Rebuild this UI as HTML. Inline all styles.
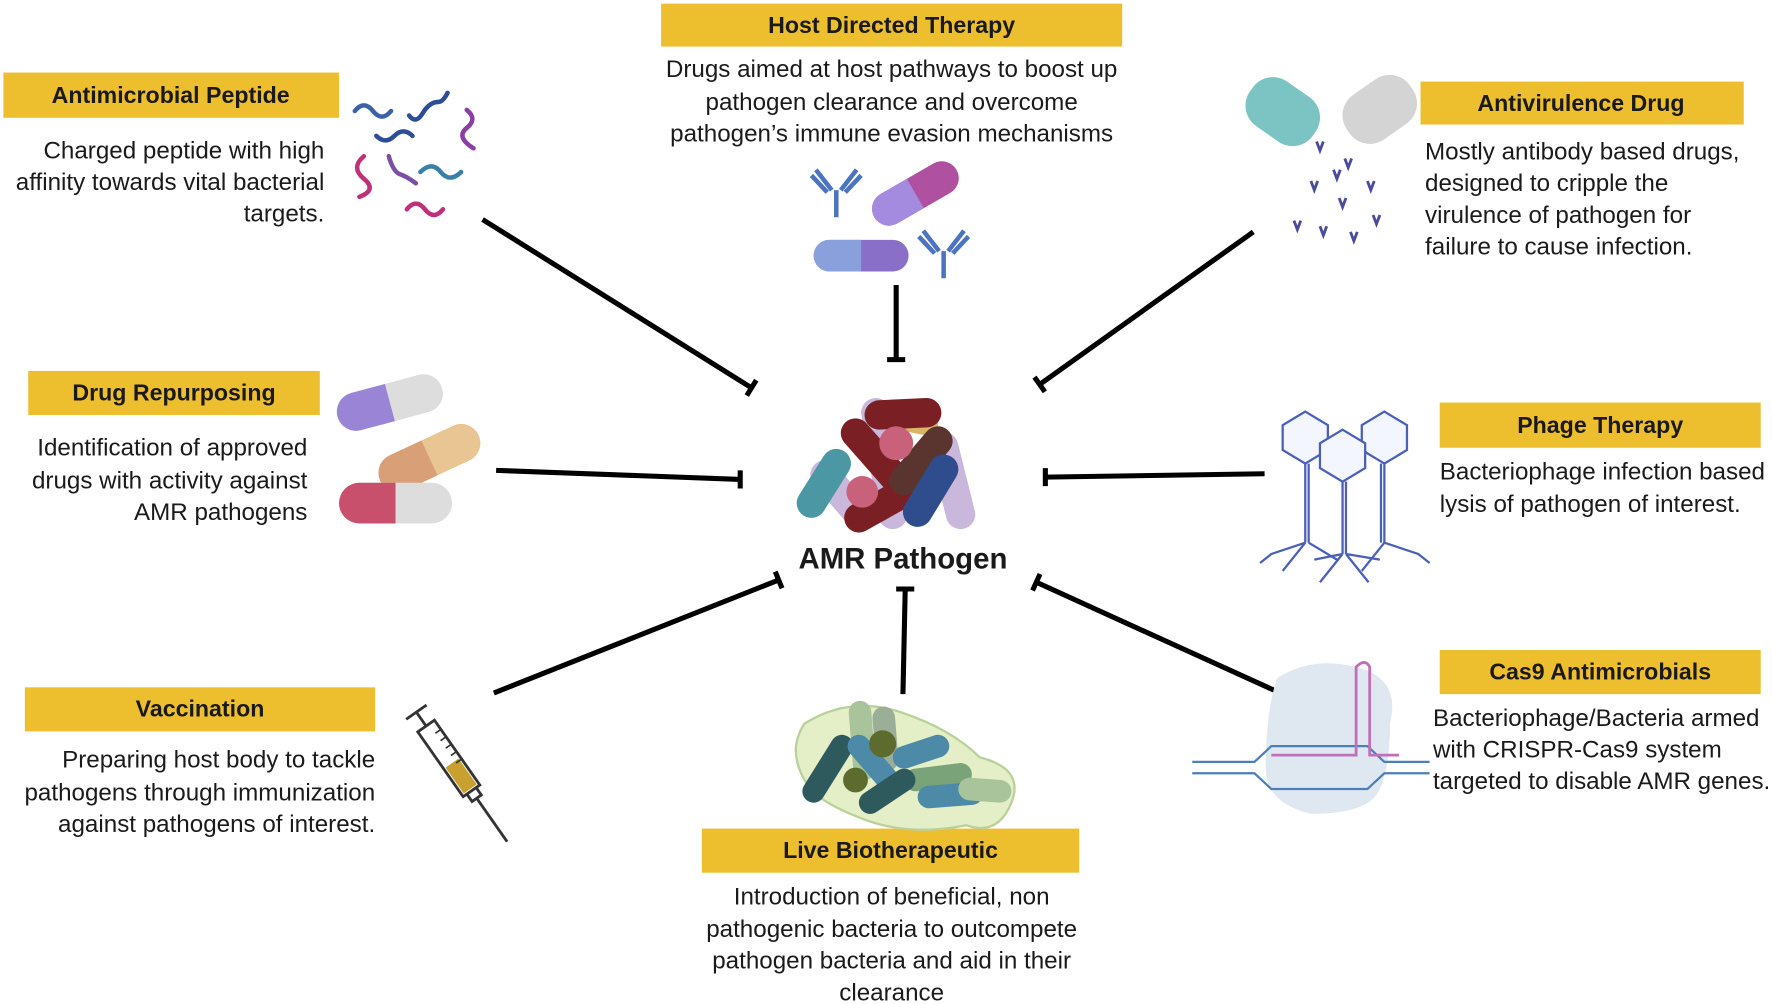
<!DOCTYPE html>
<html><head><meta charset="utf-8"><style>
html,body{margin:0;padding:0;background:#fff;width:1772px;height:1004px;overflow:hidden}
svg{display:block}
text{font-family:"Liberation Sans",sans-serif;fill:#1a1a1a}
.h{font-weight:bold;font-size:20.5px;text-anchor:middle}
.b{font-size:21.4px}
.ln{stroke:#000;stroke-width:4.5;fill:none}
</style></head><body>
<svg width="1772" height="1004" viewBox="0 0 1568 888" xmlns="http://www.w3.org/2000/svg">
<defs>
<clipPath id="lh"><rect x="-55" y="-30" width="55" height="60"/></clipPath>
</defs>
<g fill="#EDBE2E">
<rect x="585" y="3" width="408" height="38"/>
<rect x="3" y="64" width="297" height="40"/>
<rect x="1257" y="72" width="286" height="38"/>
<rect x="25" y="328" width="258" height="39"/>
<rect x="1274" y="356" width="284" height="40"/>
<rect x="22" y="608" width="310" height="39"/>
<rect x="621" y="733" width="334" height="39"/>
<rect x="1274" y="575" width="284" height="39"/>
</g>
<text class="h" x="789" y="29">Host Directed Therapy</text>
<text class="h" x="151" y="91">Antimicrobial Peptide</text>
<text class="h" x="1399" y="98">Antivirulence Drug</text>
<text class="h" x="154" y="354">Drug Repurposing</text>
<text class="h" x="1416" y="383">Phage Therapy</text>
<text class="h" x="177" y="634">Vaccination</text>
<text class="h" x="788" y="759">Live Biotherapeutic</text>
<text class="h" x="1416" y="601">Cas9 Antimicrobials</text>

<g class="b" text-anchor="middle">
<text x="789" y="68">Drugs aimed at host pathways to boost up</text>
<text x="789" y="97">pathogen clearance and overcome</text>
<text x="789" y="125">pathogen’s immune evasion mechanisms</text>
<text x="789" y="800">Introduction of beneficial, non</text>
<text x="789" y="829">pathogenic bacteria to outcompete</text>
<text x="789" y="857">pathogen bacteria and aid in their</text>
<text x="789" y="885">clearance</text>
</g>
<g class="b" text-anchor="end">
<text x="287" y="140">Charged peptide with high</text>
<text x="287" y="168">affinity towards vital bacterial</text>
<text x="287" y="196">targets.</text>
<text x="272" y="403">Identification of approved</text>
<text x="272" y="432">drugs with activity against</text>
<text x="272" y="460">AMR pathogens</text>
<text x="332" y="679">Preparing host body to tackle</text>
<text x="332" y="708">pathogens through immunization</text>
<text x="332" y="736">against pathogens of interest.</text>
</g>
<g class="b">
<text x="1261" y="141">Mostly antibody based drugs,</text>
<text x="1261" y="169">designed to cripple the</text>
<text x="1261" y="197">virulence of pathogen for</text>
<text x="1261" y="225">failure to cause infection.</text>
<text x="1274" y="424">Bacteriophage infection based</text>
<text x="1274" y="453">lysis of pathogen of interest.</text>
<text x="1268" y="642">Bacteriophage/Bacteria armed</text>
<text x="1268" y="670">with CRISPR-Cas9 system</text>
<text x="1268" y="698">targeted to disable AMR genes.</text>
</g>
<text x="799" y="503" style="font-weight:bold;font-size:26px;text-anchor:middle">AMR Pathogen</text>

<g class="ln">
<path d="M427 194L665 343M660.8 349.8L669.2 336.2"/>
<path d="M793 252L793 318M785 318L801 318"/>
<path d="M1109 205L920 340M915.4 333.5L924.6 346.5"/>
<path d="M439 416L655 424M655 416L655 432"/>
<path d="M1119 419L925 422M925 414L925 430"/>
<path d="M437 613L689 513M686 505.6L692 520.4"/>
<path d="M799 614L801 521M793 521L809 521"/>
<path d="M1135 614L917 515M913.7 522.3L920.3 507.7"/>
</g>

<g fill="none" stroke-width="4" stroke-linecap="round">
<path d="M314 98q8-10 16 0t16 0" stroke="#3a62a8"/>
<path d="M362 102q6 8 12-2t14-10q4 0 8-8" stroke="#2d4e96"/>
<path d="M333 120q8 8 16 0t16 0" stroke="#2d4e96"/>
<path d="M413 97q10 8 0 16t6 18" stroke="#8b3fa3"/>
<path d="M322 138q-12 10 0 20t-4 16" stroke="#c0307a"/>
<path d="M344 138q4 14 10 16t14 8" stroke="#7b4fa8"/>
<path d="M372 152q10-10 18 0t18 0" stroke="#3a7fa6"/>
<path d="M360 185q8-10 16 0t16 0" stroke="#c0307a"/>
</g>

<g transform="translate(345,356) rotate(-15)"><rect x="-48" y="-17" width="96" height="34" rx="17" fill="#ddd"/><rect x="-48" y="-17" width="96" height="34" rx="17" fill="#9a84d6" clip-path="url(#lh)"/></g>
<g transform="translate(380,405) rotate(-25)"><rect x="-48" y="-17" width="96" height="34" rx="17" fill="#e9c594"/><rect x="-48" y="-17" width="96" height="34" rx="17" fill="#d9a078" clip-path="url(#lh)"/></g>
<g transform="translate(350,445)"><rect x="-50" y="-18" width="100" height="36" rx="18" fill="#ddd"/><rect x="-50" y="-18" width="100" height="36" rx="18" fill="#c8506c" clip-path="url(#lh)"/></g>
<g transform="translate(810,171) rotate(-30)"><rect x="-42" y="-15" width="84" height="30" rx="15" fill="#b050a0"/><rect x="-42" y="-15" width="84" height="30" rx="15" fill="#a58be0" clip-path="url(#lh)"/></g>
<g transform="translate(762,226)"><rect x="-42" y="-14" width="84" height="28" rx="14" fill="#8a6fc8"/><rect x="-42" y="-14" width="84" height="28" rx="14" fill="#8aa0dc" clip-path="url(#lh)"/></g>
<g fill="none" stroke="#4a74c0" stroke-width="4">
<path d="M740 192V168M736 168L722 150M744 168L758 150M732 170L718 155M748 170L762 155"/>
<path d="M835 246V222M831 222L817 204M839 222L853 204M827 224L813 209M843 224L857 209"/>
</g>
<g transform="translate(1140,102) rotate(35)"><rect x="-40" y="-24" width="68" height="48" rx="22" fill="#7cc3c4"/></g>
<g transform="translate(1216,100) rotate(-35)"><rect x="-28" y="-24" width="68" height="48" rx="22" fill="#d4d4d4"/></g>
<g stroke="#4b4b9a" stroke-width="2.5" fill="none">
<path d="M1165 125l3 8 3-8M1190 140l3 8 3-8M1160 160l3 8 3-8M1185 175l3 8 3-8M1210 160l3 8 3-8M1145 195l3 8 3-8M1168 200l3 8 3-8M1195 205l3 8 3-8M1215 190l3 8 3-8M1180 150l3 8 3-8"/>
</g>
<g stroke-linecap="round" fill="none">
<path d="M775 365L790 455" stroke="#c9b8dc" stroke-width="26"/>
<path d="M835 395L850 455" stroke="#c9b8dc" stroke-width="26"/>
<path d="M730 420L760 455" stroke="#c9b8dc" stroke-width="26"/>
<path d="M795 370L820 375" stroke="#d8b664" stroke-width="20"/>
<path d="M778 367L820 365" stroke="#7a2025" stroke-width="26"/>
<path d="M757 383L800 432" stroke="#7a2025" stroke-width="26"/>
<path d="M740 410L718 445" stroke="#4b98a4" stroke-width="26"/>
<path d="M760 458L810 430" stroke="#7a2025" stroke-width="26"/>
<path d="M800 425L830 390" stroke="#5a3530" stroke-width="26"/>
<path d="M835 415L812 453" stroke="#2f4c8c" stroke-width="26"/>
</g>
<circle cx="793" cy="392" r="15" fill="#c9617a"/>
<circle cx="763" cy="435" r="14" fill="#c9617a"/>
<path d="M712 640q40-25 85-10t70 40q40 10 28 40t-40 20q-50 10-90-5t-50-30q-20-30-3-55z" fill="#e4efc8" stroke="#b9d09a" stroke-width="2"/>
<g stroke-linecap="round" fill="none" stroke-width="20">
<path d="M761 630L765 680" stroke="#a9c49a"/>
<path d="M782 635L785 672" stroke="#9aae98"/>
<path d="M745 660L720 700" stroke="#2e5a5e"/>
<path d="M760 660L790 695" stroke="#4d8aa8"/>
<path d="M800 670L830 660" stroke="#4d8aa8"/>
<path d="M810 690L850 685" stroke="#7aa37a"/>
<path d="M770 710L800 690" stroke="#2e5a5e"/>
<path d="M822 705L860 702" stroke="#4d8aa8"/>
<path d="M858 698L885 700" stroke="#a9c49a"/>
</g>
<circle cx="781" cy="658" r="12" fill="#5e6b2e"/>
<circle cx="757" cy="690" r="11" fill="#5e6b2e"/>
<g transform="translate(400,675) rotate(55)">
<rect x="-40" y="-9" width="70" height="18" fill="#fff" stroke="#333" stroke-width="2.5"/>
<rect x="0" y="-7" width="28" height="14" fill="#c8a030"/>
<path d="M-40 0H-55M-55 -11V11M30 -5H38V5H30M38 0H85" stroke="#333" stroke-width="2.5" fill="none"/>
<path d="M-30 -9v6M-22 -9v6M-14 -9v6M-6 -9v6M2 -9v6" stroke="#333" stroke-width="1.5"/>
</g>
<g stroke="#4a5fb8" stroke-width="2" fill="#f3f5ff">
<polygon points="1155,364 1175,376 1175,398 1155,410 1135,398 1135,376"/>
<polygon points="1225,364 1245,376 1245,398 1225,410 1205,398 1205,376"/>
<polygon points="1188,380 1208,392 1208,414 1188,426 1168,414 1168,392"/>
</g>
<g stroke="#4a5fb8" stroke-width="2" fill="none">
<path d="M1155 410V480M1158 410V480M1225 410V480M1222 410V480M1188 426V490M1191 426V490"/>
<path d="M1155 480l-30 10-10 8M1155 480l-20 25M1158 480l25 15M1225 480l30 10 10 8M1225 480l-20 25M1188 490l-20 25M1191 490l20 25M1188 490l-25 5M1191 490l30 5"/>
</g>
<path d="M1130 600q30-20 70-10t30 50q0 40-10 60t-60 20q-40-10-40-40q0-50 10-80z" fill="#dfe8f0"/>
<g stroke="#4a7fb8" stroke-width="2" fill="none">
<path d="M1055 674H1110L1125 660H1210L1225 674H1265"/>
<path d="M1055 684H1110L1125 698H1210L1225 684H1265"/>
</g>
<path d="M1125 668H1200V590q8-8 12 0V668H1238" stroke="#c070b8" stroke-width="2.5" fill="none"/>
</svg>
</body></html>
